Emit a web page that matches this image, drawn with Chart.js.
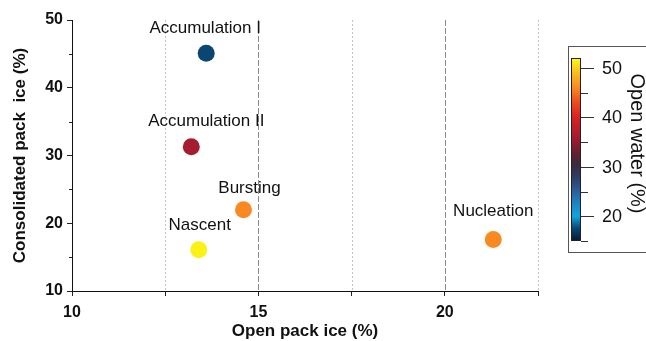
<!DOCTYPE html>
<html><head><meta charset="utf-8">
<script src="https://cdn.jsdelivr.net/npm/chart.js@4/dist/chart.umd.min.js"></script>
<style>html,body{margin:0;padding:0;background:#fff;}#wrap{width:646px;height:341px;}</style>
</head><body><div id="wrap"><canvas id="c" width="646" height="341"></canvas></div>
<script>
const stages = ['Accumulation I', 'Accumulation II', 'Bursting', 'Nascent', 'Nucleation'];
const openPackIce = [13.6, 13.2, 14.6, 13.4, 21.3];
const consolidatedPackIce = [45.1, 31.3, 22.0, 16.1, 17.6];
const openWater = [17.5, 36, 46, 51.5, 46];
const xTicks = [10, 12.5, 15, 17.5, 20, 22.5];
const xTickLabels = ['10', '', '15', '', '20', ''];
const yTicks = [10, 15, 20, 25, 30, 35, 40, 45, 50];
const yTickLabels = ['10', '', '20', '', '30', '', '40', '', '50'];
const cbTicks = [15, 20, 25, 30, 35, 40, 45, 50];
const cbTickLabels = ['', '20', '', '30', '', '40', '', '50'];
const cbRange = [15, 52];

const cmapStops = [
  [15, '#061a33'], [17.5, '#0b4571'], [20, '#12a5dd'], [22.5, '#1f86c4'],
  [25.5, '#2a5a96'], [28, '#2e3c62'], [30.5, '#3a2a3e'], [33, '#6a1e2e'],
  [36, '#a51c30'], [40, '#d82222'], [43, '#ec4a1e'], [46, '#f98a22'],
  [49, '#f9bd20'], [52, '#fdfb14']
];
function hex2rgb(h){return [1,3,5].map(i=>parseInt(h.substr(i,2),16));}
function cmap(v){
  if (v <= cmapStops[0][0]) return cmapStops[0][1];
  for (let i=1;i<cmapStops.length;i++){
    if (v <= cmapStops[i][0]){
      const [v0,c0]=cmapStops[i-1],[v1,c1]=cmapStops[i];
      const t=(v-v0)/(v1-v0), a=hex2rgb(c0), b=hex2rgb(c1);
      const r=a.map((x,k)=>Math.round(x+(b[k]-x)*t));
      return 'rgb('+r.join(',')+')';
    }
  }
  return cmapStops[cmapStops.length-1][1];
}

const FONT = '"Liberation Sans", Arial, Helvetica, sans-serif';

const gridPlugin = {
  id: 'xgrid',
  beforeDatasetsDraw(chart) {
    const ctx = chart.ctx, xs = chart.scales.x, ys = chart.scales.y, a = chart.chartArea;
    ctx.save();
    xTicks.forEach((v, i) => {
      if (v === xs.min) return;
      const px = Math.round(xs.getPixelForValue(v)) + 0.5;
      const major = xTickLabels[i] !== '';
      ctx.strokeStyle = major ? '#8a8a8a' : '#c4c4c4';
      ctx.lineWidth = 1;
      ctx.setLineDash(major ? [6, 2] : [2, 2]);
      ctx.beginPath(); ctx.moveTo(px, a.top); ctx.lineTo(px, a.bottom); ctx.stroke();
    });
    // short minor y ticks
    ctx.setLineDash([]);
    ctx.strokeStyle = '#222';
    yTicks.forEach((v, i) => {
      if (yTickLabels[i] !== '') return;
      const py = Math.round(ys.getPixelForValue(v)) + 0.5;
      ctx.beginPath(); ctx.moveTo(a.left - 3, py); ctx.lineTo(a.left, py); ctx.stroke();
    });
    ctx.restore();
  }
};

const labelPlugin = {
  id: 'pointLabels',
  afterDatasetsDraw(chart, args, opts) {
    const ctx = chart.ctx, meta = chart.getDatasetMeta(0);
    ctx.save();
    ctx.font = '17px ' + FONT;
    ctx.fillStyle = '#111';
    ctx.textAlign = 'center';
    ctx.textBaseline = 'middle';
    meta.data.forEach((pt, i) => {
      const off = opts.offsets[i];
      ctx.fillText(stages[i], pt.x + off[0], pt.y + off[1]);
    });
    ctx.restore();
  }
};

const colorbarPlugin = {
  id: 'colorbar',
  afterDraw(chart, args, o) {
    const ctx = chart.ctx;
    const yOf = v => o.bottom - (v - cbRange[0]) / (cbRange[1] - cbRange[0]) * (o.bottom - o.top);
    ctx.save();
    ctx.strokeStyle = '#555'; ctx.lineWidth = 1;
    ctx.strokeRect(o.boxX + 0.5, o.boxY + 0.5, o.boxW, o.boxH);
    const g = ctx.createLinearGradient(0, o.bottom, 0, o.top);
    const n = 60;
    for (let i = 0; i <= n; i++) {
      const v = cbRange[0] + (cbRange[1] - cbRange[0]) * i / n;
      g.addColorStop(i / n, cmap(v));
    }
    ctx.fillStyle = g;
    ctx.fillRect(o.left, o.top, o.width, o.bottom - o.top);
    ctx.strokeStyle = '#222';
    ctx.strokeRect(o.left + 0.5, o.top + 0.5, o.width - 1, o.bottom - o.top - 1);
    ctx.font = '18px ' + FONT;
    ctx.fillStyle = '#111';
    ctx.textAlign = 'left'; ctx.textBaseline = 'middle';
    cbTicks.forEach((v, i) => {
      const y = Math.round(yOf(v)) + 0.5;
      const major = cbTickLabels[i] !== '';
      ctx.strokeStyle = '#333';
      ctx.beginPath(); ctx.moveTo(o.left + o.width, y); ctx.lineTo(o.left + o.width + (major ? 13 : 7), y); ctx.stroke();
      if (major) ctx.fillText(cbTickLabels[i], o.left + o.width + 21, y + 1);
    });
    ctx.translate(o.titleX, (o.top + o.bottom) / 2 - 6);
    ctx.rotate(Math.PI / 2);
    ctx.font = '20px ' + FONT;
    ctx.textAlign = 'center';
    ctx.fillText('Open water (%)', 0, 0);
    ctx.restore();
  }
};

new Chart(document.getElementById('c'), {
  type: 'scatter',
  data: {
    datasets: [{
      data: openPackIce.map((x, i) => ({ x: x, y: consolidatedPackIce[i] })),
      backgroundColor: openWater.map(cmap),
      borderColor: openWater.map(cmap),
      borderWidth: 0,
      pointRadius: 8.5,
      pointHoverRadius: 8.5
    }]
  },
  options: {
    responsive: false,
    animation: false,
    events: [],
    layout: { padding: { top: 20, right: 108, left: 0, bottom: 0 } },
    plugins: {
      legend: { display: false },
      tooltip: { enabled: false },
      pointLabels: { offsets: [[-1, -25], [15, -25], [6, -21], [1, -24], [0, -28]] },
      colorbar: { boxX: 568, boxY: 46, boxW: 100, boxH: 206, left: 571, width: 10, top: 58, bottom: 241, titleX: 637 }
    },
    scales: {
      x: {
        type: 'linear', min: 10, max: 22.5,
        afterBuildTicks: s => { s.ticks = xTicks.map(v => ({ value: v })); },
        afterFit: s => { s.height = 50; },
        ticks: {
          autoSkip: false, maxRotation: 0, padding: 7,
          color: '#111', font: { family: FONT, size: 16, weight: 'bold' },
          callback: (v, i) => xTickLabels[i]
        },
        grid: { drawOnChartArea: false, drawTicks: true, tickLength: 5, tickColor: '#222' },
        border: { color: '#111', width: 1 },
        title: { display: true, text: 'Open pack ice (%)', color: '#111',
          font: { family: FONT, size: 17, weight: 'bold' }, padding: { top: 0, bottom: -1 } }
      },
      y: {
        type: 'linear', min: 10, max: 50,
        afterBuildTicks: s => { s.ticks = yTicks.map(v => ({ value: v })); },
        afterFit: s => { s.width = 72; },
        ticks: {
          autoSkip: false, padding: 4,
          color: '#111', font: { family: FONT, size: 16, weight: 'bold' },
          callback: (v, i) => yTickLabels[i]
        },
        grid: { drawOnChartArea: false, drawTicks: true, tickLength: 5,
          tickColor: c => (yTickLabels[c.index] === '' ? 'rgba(0,0,0,0)' : '#222') },
        border: { color: '#111', width: 1 },
        title: { display: true, text: 'Consolidated pack  ice (%)', color: '#111',
          font: { family: FONT, size: 17, weight: 'bold' }, padding: { top: 10, bottom: 0 } }
      }
    }
  },
  plugins: [gridPlugin, labelPlugin, colorbarPlugin]
});
</script>
</body></html>
